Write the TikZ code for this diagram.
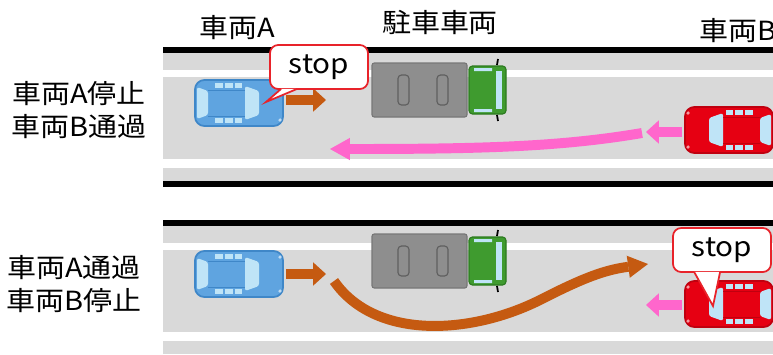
\documentclass[tikz,border=0pt]{standalone}
\usepackage{fontspec}
\setmainfont{Noto Sans CJK JP}[FakeStretch=1.1]
\usetikzlibrary{arrows.meta}
\definecolor{roadgray}{HTML}{D9D9D9}
\definecolor{glass}{HTML}{BFE4F7}
\definecolor{carblue}{HTML}{5FA4E0}
\definecolor{carblueedge}{HTML}{3F87C8}
\definecolor{carred}{HTML}{E60012}
\definecolor{carrededge}{HTML}{C0000F}
\definecolor{truckgray}{HTML}{8E8E8E}
\definecolor{truckedge}{HTML}{777777}
\definecolor{cabgreen}{HTML}{3F9B2F}
\definecolor{cabedge}{HTML}{2C7A20}
\definecolor{goorange}{HTML}{C55A11}
\definecolor{gopink}{HTML}{FF66CC}
\definecolor{stopred}{HTML}{E8232A}
\tikzset{headtext/.style={font=\fontsize{22.5}{26}\selectfont}}
\tikzset{sidetext/.style={font=\fontsize{22.5}{28}\selectfont,align=center}}
\tikzset{vehicle/.style={inner sep=0pt,outer sep=0.09cm,minimum width=2.64cm,minimum height=1.38cm}}
\tikzset{lorry/.style={inner sep=0pt,minimum width=4.05cm,minimum height=1.74cm}}
\tikzset{shortgo/.style={line width=8.5pt,-{Triangle[length=11pt,width=20pt,line width=0pt]}}}
\tikzset{longgo/.style={line width=8.5pt,-{Triangle[length=17pt,width=19pt,line width=0pt]}}}
\tikzset{stopbox/.style={draw=stopred,fill=white,line width=1.5pt,rounded corners=7pt,
  minimum width=2.94cm,minimum height=1.32cm,font=\fontsize{23}{26}\selectfont}}
\tikzset{stoptail/.style={fill=white,draw=stopred,line width=1.5pt,line join=miter}}
\tikzset{
  pics/car/.style 2 args={code={
    \draw[fill=#1,draw=#2,line width=1.5pt,rounded corners=8pt] (-44,-23) rectangle (44,23);
    \fill[glass,rounded corners=2pt] (-42,-16) -- (-31,-12) -- (-31,12) -- (-42,16) -- cycle;
    \fill[glass,rounded corners=2pt] (6,-17) -- (20,-12) -- (20,12) -- (6,17) -- cycle;
    \draw[#2,line width=0.6pt] (-31,-13) -- (6,-13) (-31,13) -- (6,13);
    \foreach \s in {-1,1}{
      \fill[glass] (-24,15*\s) rectangle (-16,20*\s);
      \fill[glass] (-14,15*\s) rectangle (-6,20*\s);
      \fill[glass] (-4,15*\s) rectangle (3,20*\s);
      \fill[white!60!#1] (41,17*\s) circle (1.5pt);
    }
  }},
  pics/truck/.style={code={
    \draw[fill=truckgray,draw=truckedge,line width=1pt,rounded corners=2pt] (-67,-27) rectangle (28,27);
    \draw[truckedge!80!black,line width=1pt,rounded corners=3pt] (-41,-15) rectangle (-30,15) (-2,-15) rectangle (9,15);
    \draw[fill=cabgreen,draw=cabedge,line width=1pt,rounded corners=3pt] (30,-24) rectangle (67,24);
    \fill[glass] (57,-19) rectangle (63,19);
    \fill[glass] (35,-22) rectangle (53,-19) (35,19) rectangle (53,22);
    \draw[black,line width=1.5pt] (59,-31) -- (58,-25) (59,31) -- (58,25);
  }}
}

\begin{document}
\begin{tikzpicture}[x=0.03cm,y=-0.03cm]
\useasboundingbox (0,0) rectangle (773,354);
\foreach \dy in {0,173}{
  \fill[roadgray] (163,53+\dy) rectangle (773,181+\dy);
  \fill[white] (163,70+\dy) rectangle (773,77+\dy);
  \fill[white] (163,159+\dy) rectangle (773,168+\dy);
  \fill[black] (163,47+\dy) rectangle (773,53+\dy);
}
\fill[black] (163,181) rectangle (773,187);
\node[headtext,name=hA] at (237,28) {車両A};
\node[headtext,name=hP] at (440,22) {駐車車両};
\node[headtext,name=hB] at (738,31) {車両B};
\node[sidetext,name=case1] at (79,110) {車両A停止\\車両B通過};
\node[sidetext,name=case2] at (74,284) {車両A通過\\車両B停止};

\node[vehicle,name=carA1] at (239,103) {};
\node[vehicle,name=carB1] at (729,130) {};
\node[lorry,name=truck1] at (439,90) {};
\node[vehicle,name=carA2] at (239,274) {};
\node[vehicle,name=carB2] at (729,304) {};
\node[lorry,name=truck2] at (439,261) {};
\pic at (carA1) {car={carblue}{carblueedge}};
\pic[rotate=180] at (carB1) {car={carred}{carrededge}};
\pic at (truck1) {truck};
\pic at (carA2) {car={carblue}{carblueedge}};
\pic[rotate=180] at (carB2) {car={carred}{carrededge}};
\pic at (truck2) {truck};

\coordinate (a1stop) at (326,100);
\draw[shortgo,goorange] (carA1.east |- a1stop) -- (a1stop);
\coordinate (b1go) at (646,132);
\draw[shortgo,gopink] (carB1.west |- b1go) -- (b1go);
\coordinate (b1from) at (642,133);
\coordinate (b1end) at (330,149);
\draw[longgo,gopink] (b1from) .. controls (560,147) and (480,149) .. (b1end);

\coordinate (a2stop) at (326,274);
\draw[shortgo,goorange] (carA2.east |- a2stop) -- (a2stop);
\coordinate (a2from) at (334,281);
\coordinate (a2end) at (648,264);
\draw[longgo,goorange] (a2from) .. controls (375,340) and (470,335) .. (540,300) .. controls (585,277) and (605,270) .. (a2end);
\coordinate (b2stop) at (646,305);
\draw[shortgo,gopink] (carB2.west |- b2stop) -- (b2stop);

\node[stopbox,name=stop1] at (319,67) {stop};
\coordinate (stop1tip) at (266,102);
\filldraw[stoptail] ([shift={(12,-1)}]stop1.south west) -- (stop1tip) -- ([shift={(28,-1)}]stop1.south west);
\node[stopbox,name=stop2] at (722,250) {stop};
\coordinate (stop2tip) at (713,306);
\filldraw[stoptail] ([shift={(22,-1)}]stop2.south west) -- (stop2tip) -- ([shift={(48,-1)}]stop2.south west);
\end{tikzpicture}
\end{document}
